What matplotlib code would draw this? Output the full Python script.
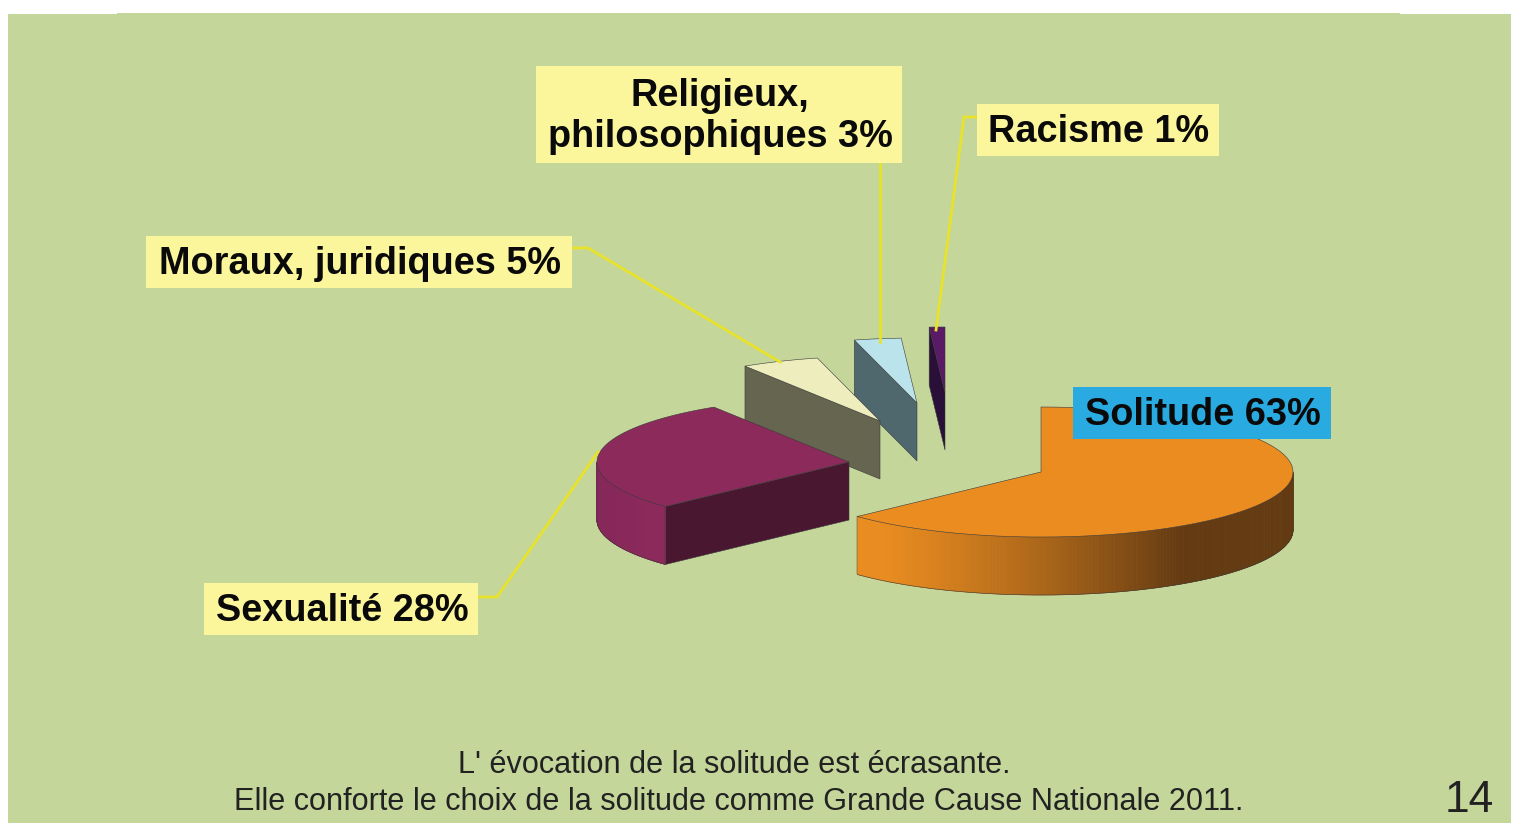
import numpy as np
import matplotlib
matplotlib.use("Agg")
import matplotlib.pyplot as plt
from matplotlib.patches import Rectangle, Polygon
from matplotlib.colors import to_rgb

# --- data ---
categories = ["Solitude", "Sexualité", "Moraux, juridiques", "Religieux,\nphilosophiques", "Racisme"]
shares = [63, 28, 5, 3, 1]
caption = ["L' évocation de la solitude est écrasante.",
           "Elle conforte le choix de la solitude comme Grande Cause Nationale 2011."]
page_number = "14"

# --- style / layout ---
BG = "#C5D69B"
BOX = "#FBF59B"
LEADER = "#E8E32A"
top_cols = ["#EA8C20", "#8B2A5B", "#EDEDBE", "#BBE3EC", "#5A1A66"]
cut_cols = [None, "#4A1730", "#66654F", "#4F686E", "#2A1038"]
wall_cols = [("#EA8C20", "#633A12"), ("#86285A", "#8B2A5B"), ("#66654F", "#66654F"),
             ("#4F686E", "#4F686E"), ("#2A1038", "#2A1038")]
centres = [(1041, 472), (849, 462), (880, 421), (917, 403), (945, 392)]
RX, RY, DEPTH = 252, 65, 58
boxes = [(1073, 387, 258, 52, "#29ABE2"), (204, 583, 274, 52, BOX), (146, 236, 426, 52, BOX),
         (536, 66, 366, 97, BOX), (977, 104, 242, 52, BOX)]
leaders = [None,
           [(478, 597), (497, 597), (598, 452)],
           [(572, 248), (588, 248), (780, 362)],
           [(880, 163), (880, 342)],
           [(977, 117), (964, 117), (936, 330)]]

fig = plt.figure(figsize=(15.17, 8.23), dpi=100, facecolor="white")
ax = fig.add_axes([0, 0, 1, 1])
ax.set_xlim(0, 1517)
ax.set_ylim(823, 0)
ax.axis("off")

ax.add_patch(Rectangle((8, 14), 1503, 809, fc=BG, ec="none", zorder=0))
ax.add_patch(Rectangle((117, 13), 1283, 1, fc=BG, ec="none", zorder=0))


def rim(c, a):
    """Rim points for angles measured clockwise from 12 o'clock (degrees)."""
    a = np.radians(a)
    return np.column_stack([c[0] + RX * np.sin(a), c[1] - RY * np.cos(a)])


edges = np.cumsum([0] + shares) * 3.6
EDGE = dict(ec="#3a3a3a", lw=0.4)

order = [4, 3, 2, 1, 0]
for z, i in enumerate(order):
    c = centres[i]
    a0, a1 = edges[i], edges[i + 1]
    zb = 2 + z
    if cut_cols[i]:
        p0 = rim(c, [a0])[0]
        ax.add_patch(Polygon([c, p0, p0 + (0, DEPTH), (c[0], c[1] + DEPTH)], closed=True,
                             fc=cut_cols[i], zorder=zb, **EDGE))
    w0, w1 = max(a0, 90), min(a1, 270)
    if w1 > w0:
        aa = np.linspace(w0, w1, 181)
        pts = rim(c, aa)
        xmin, xmax = pts[:, 0].min(), pts[:, 0].max()
        ca, cb = map(np.array, map(to_rgb, wall_cols[i]))
        for k in range(len(aa) - 1):
            t = np.clip((pts[k:k + 2, 0].mean() - xmin - 0.05 * (xmax - xmin)) / (0.7 * (xmax - xmin)), 0, 1) ** 1.2
            q = [pts[k], pts[k + 1], pts[k + 1] + (0, DEPTH), pts[k] + (0, DEPTH)]
            ax.add_patch(Polygon(q, closed=True, fc=ca + (cb - ca) * t, ec=ca + (cb - ca) * t,
                                 lw=0.5, zorder=zb))
        ax.plot(pts[:, 0], pts[:, 1] + DEPTH, color="#3a3a3a", lw=0.4, zorder=zb)
        ax.plot([pts[0, 0]] * 2, [pts[0, 1], pts[0, 1] + DEPTH], color="#3a3a3a", lw=0.3, zorder=zb)
        ax.plot([pts[-1, 0]] * 2, [pts[-1, 1], pts[-1, 1] + DEPTH], color="#3a3a3a", lw=0.3, zorder=zb)
    top = np.vstack([[c], rim(c, np.linspace(a0, a1, 181))])
    ax.add_patch(Polygon(top, closed=True, fc=top_cols[i], zorder=zb + 0.5, **EDGE))

for line in leaders:
    if line:
        xs, ys = zip(*line)
        ax.plot(xs, ys, color=LEADER, lw=2.0, zorder=9, solid_joinstyle="miter")

for (x, y, w, h, col), cat, v in zip(boxes, categories, shares):
    ax.add_patch(Rectangle((x, y), w, h, fc=col, ec="none", zorder=10))
    ax.text(x + w / 2 + 1, y + h / 2 + 2, f"{cat} {v}%", ha="center", va="center",
            family="Liberation Sans", weight="bold", fontsize=27.3, color="#0a0a0a",
            linespacing=1.2, zorder=11)

ax.text(734, 765, caption[0], ha="center", va="center", family="Liberation Sans",
        fontsize=22.1, color="#222222", zorder=11)
ax.text(739, 802, caption[1], ha="center", va="center", family="Liberation Sans",
        fontsize=22.1, color="#222222", zorder=11)
ax.text(1469, 800, page_number, ha="center", va="center", family="Liberation Sans",
        fontsize=32, color="#222222", zorder=11)

fig.savefig("out.png", dpi=100, facecolor="white")
